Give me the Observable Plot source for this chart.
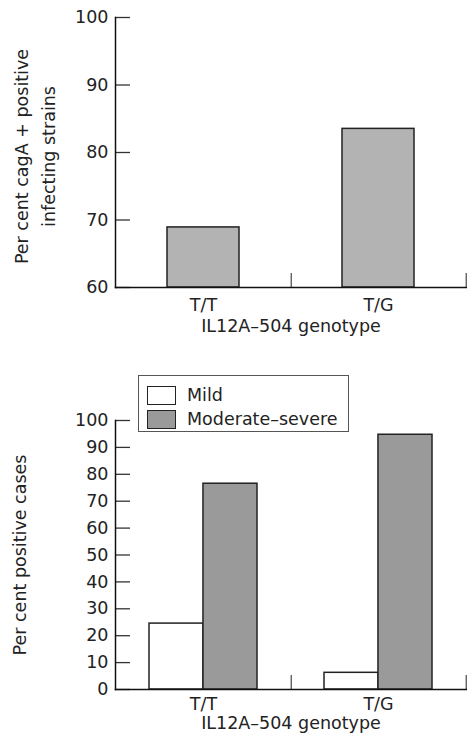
<!DOCTYPE html>
<html><head><meta charset="utf-8">
<script src="https://cdn.jsdelivr.net/npm/d3@7"></script>
<script src="https://cdn.jsdelivr.net/npm/@observablehq/plot@0.6"></script>
<style>
body{margin:0;background:#fff;}
#wrap{position:relative;width:467px;height:744px;font-family:"DejaVu Sans",sans-serif;color:#222;}
svg{display:block;}
#legend{position:absolute;left:138px;top:375px;width:211px;height:57px;box-sizing:border-box;border:1px solid #555;background:#fff;padding:7px 0 0 8px;font-size:17.5px;}
.row{display:flex;align-items:center;height:24px;}
.sw{width:29px;height:19px;box-sizing:border-box;border:1.5px solid #222;margin-right:11px;}
</style>
</head><body>
<div id="wrap"><div id="top"></div><div id="bottom"></div>
<div id="legend"></div></div>
<script>
const genotypes = ["T/T", "T/G"];
const cagA = [68.9, 83.5];
const severity = ["Mild", "Moderate–severe"];
const mild = [24.5, 6.2];
const moderate = [76.5, 94.7];
const topTicks = [60, 70, 80, 90, 100];
const bottomTicks = [0, 10, 20, 30, 40, 50, 60, 70, 80, 90, 100];
const xLabel = "IL12A–504 genotype";
const yLabelTop = "Per cent cagA + positive\ninfecting strains";
const yLabelBottom = "Per cent positive cases";
const colors = ["#ffffff", "#9a9a9a"];
const topColor = "#b3b3b3";

const W = 467, ML = 115, MR = 1;
const FS = 17.5;
const step = (W - ML - MR) / genotypes.length;
const style = {fontFamily: "DejaVu Sans, sans-serif", fontSize: FS + "px", color: "#222", background: "white"};

function axes(ticks, pad, labelDy) {
  return [
    Plot.axisY(ticks, {tickSize: 0, tickPadding: 7, label: null, fontSize: FS}),
    Plot.axisY(ticks, {tickSize: 15, dx: 15, text: null, label: null, stroke: "#333", strokeWidth: 1.3}),
    Plot.axisX({tickSize: 0, tickPadding: pad, label: null, fontSize: FS}),
    Plot.axisX({tickSize: 14, dx: step / 2, dy: -14, text: null, label: null, stroke: "#555", strokeWidth: 1.3}),
    Plot.frame({anchor: "left", stroke: "#111", strokeWidth: 1.5}),
    Plot.frame({anchor: "bottom", stroke: "#111", strokeWidth: 1.5}),
    Plot.text([xLabel], {frameAnchor: "bottom", dy: labelDy, fontSize: FS, fill: "#222"})
  ];
}

const topData = genotypes.map((g, i) => ({g, v: cagA[i]}));
const topPlot = Plot.plot({
  width: W, height: 340, marginLeft: ML, marginRight: MR, marginTop: 17, marginBottom: 53,
  style,
  x: {domain: genotypes, paddingInner: 0.59, paddingOuter: 0.295, axis: null},
  y: {domain: [topTicks[0], topTicks[topTicks.length - 1]], axis: null},
  marks: [
    Plot.barY(topData, {x: "g", y1: topTicks[0], y2: "v", fill: topColor, stroke: "#222", strokeWidth: 1.5}),
    ...axes(topTicks, 11, 44),
    Plot.text([yLabelTop], {frameAnchor: "left", textAnchor: "middle", rotate: -90, dx: -83, dy: 4, lineHeight: 1.55, lineAnchor: "middle", fontSize: FS, fill: "#222"})
  ]
});
document.getElementById("top").appendChild(topPlot);

const botData = genotypes.map((g, i) => ({g, mild: mild[i], moderate: moderate[i]}));
const pB = 0.385;
const bw = step * (1 - pB);
const botPlot = Plot.plot({
  width: W, height: 404, marginLeft: ML, marginRight: MR, marginTop: 80, marginBottom: 55,
  style,
  x: {domain: genotypes, paddingInner: pB, paddingOuter: pB / 2, axis: null},
  y: {domain: [bottomTicks[0], bottomTicks[bottomTicks.length - 1]], axis: null},
  marks: [
    Plot.barY(botData, {x: "g", y: "mild", insetRight: bw / 2, fill: colors[0], stroke: "#222", strokeWidth: 1.5}),
    Plot.barY(botData, {x: "g", y: "moderate", insetLeft: bw / 2, fill: colors[1], stroke: "#222", strokeWidth: 1.5}),
    ...axes(bottomTicks, 8, 39),
    Plot.text([yLabelBottom], {frameAnchor: "left", textAnchor: "middle", rotate: -90, dx: -95, fontSize: FS, fill: "#222"})
  ]
});
document.getElementById("bottom").appendChild(botPlot);

const legend = document.getElementById("legend");
severity.forEach((s, i) => {
  const row = document.createElement("div");
  row.className = "row";
  const sw = document.createElement("div");
  sw.className = "sw";
  sw.style.background = colors[i];
  const t = document.createElement("span");
  t.textContent = s;
  row.appendChild(sw); row.appendChild(t);
  legend.appendChild(row);
});
</script>
</body></html>
